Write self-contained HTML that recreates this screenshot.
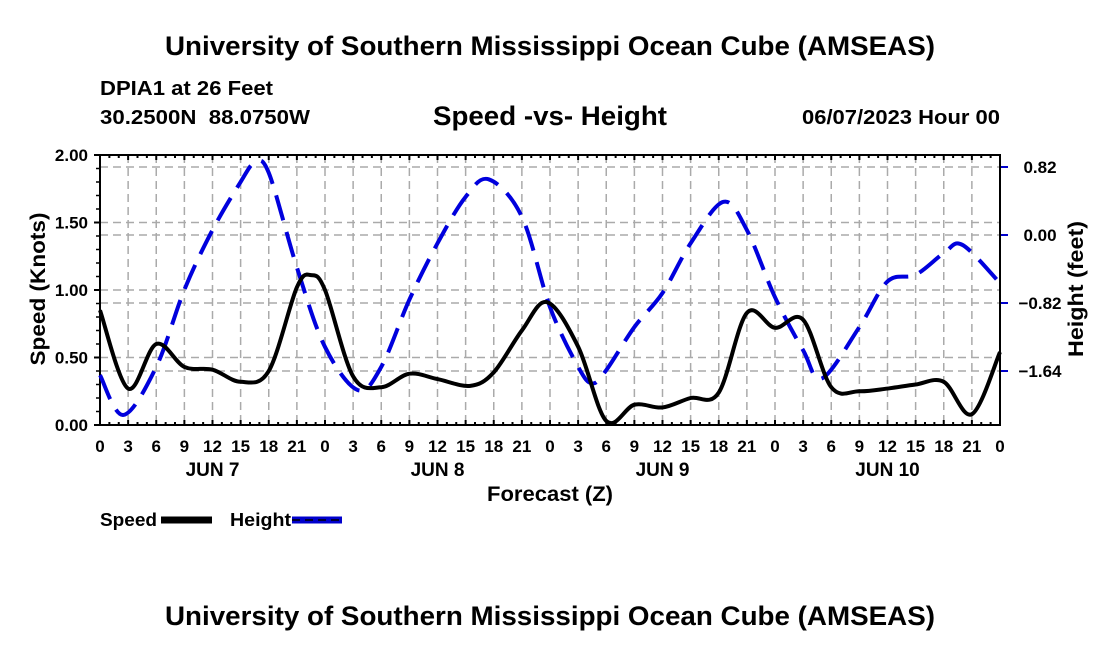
<!DOCTYPE html>
<html><head><meta charset="utf-8"><style>
html,body{margin:0;padding:0;background:#fff;}
svg{display:block;font-family:"Liberation Sans",Arial,sans-serif;font-weight:bold;}
</style></head><body>
<svg id="chart" width="1100" height="650" viewBox="0 0 1100 650" xmlns="http://www.w3.org/2000/svg">
<text x="165" y="55" font-size="27" textLength="770" lengthAdjust="spacingAndGlyphs">University of Southern Mississippi Ocean Cube (AMSEAS)</text>
<text x="100" y="95" font-size="20" textLength="173" lengthAdjust="spacingAndGlyphs">DPIA1 at 26 Feet</text>
<text x="100" y="124" font-size="20" textLength="210" lengthAdjust="spacingAndGlyphs" xml:space="preserve">30.2500N  88.0750W</text>
<text x="433" y="125" font-size="27" textLength="234" lengthAdjust="spacingAndGlyphs">Speed -vs- Height</text>
<text x="802" y="124" font-size="20" textLength="198" lengthAdjust="spacingAndGlyphs">06/07/2023 Hour 00</text>
<g id="grid"></g>
<g id="axes"></g>
<g id="series"></g>
<text transform="translate(45,289) rotate(-90)" text-anchor="middle" font-size="21" textLength="153" lengthAdjust="spacingAndGlyphs">Speed (Knots)</text>
<text transform="translate(1083,289) rotate(-90)" text-anchor="middle" font-size="21" textLength="136" lengthAdjust="spacingAndGlyphs">Height (feet)</text>
<text x="487" y="501" font-size="21" textLength="126" lengthAdjust="spacingAndGlyphs">Forecast (Z)</text>
<g>
<text x="100" y="526" font-size="18" textLength="57" lengthAdjust="spacingAndGlyphs">Speed</text>
<line x1="161" y1="520" x2="212" y2="520" stroke="#000" stroke-width="7"/>
<text x="230" y="526" font-size="18" textLength="61" lengthAdjust="spacingAndGlyphs">Height</text>
<line x1="292" y1="520" x2="342" y2="520" stroke="#0000cc" stroke-width="7"/>
<line x1="292" y1="520" x2="342" y2="520" stroke="#000" stroke-width="1.5" stroke-dasharray="8 5"/>
</g>
<text x="165" y="625" font-size="27" textLength="770" lengthAdjust="spacingAndGlyphs">University of Southern Mississippi Ocean Cube (AMSEAS)</text>
</svg>
<script>
const speedHours=[0,3,6,9,12,15,18,21,22.5,24,27,30,33,36,39.5,42,45,47.7,51,54,57,60,63,66,69,72,75,78,81,84,87,90,93,96];
const speedValues=[0.85,0.27,0.60,0.43,0.41,0.32,0.40,1.02,1.11,1.00,0.36,0.28,0.38,0.34,0.29,0.39,0.70,0.91,0.58,0.03,0.15,0.13,0.20,0.24,0.83,0.72,0.78,0.28,0.25,0.27,0.30,0.32,0.08,0.54];
const heightHours=[0,2.5,6,9,12,15,16.5,18,21,24,27.5,30,33,36,39,41.5,45,48,51,52.5,54,57,60,63,66.5,69,72,75,77,81,84,87,90,92,96];
const heightValues=[-1.69,-2.17,-1.59,-0.66,0.06,0.64,0.87,0.75,-0.39,-1.35,-1.87,-1.59,-0.78,-0.10,0.46,0.67,0.22,-0.87,-1.59,-1.79,-1.63,-1.11,-0.70,-0.10,0.40,0.06,-0.75,-1.39,-1.73,-1.11,-0.56,-0.48,-0.22,-0.12,-0.58];
const speedTicks=["0.00","0.50","1.00","1.50","2.00"];
const heightTicks=["-1.64","-0.82","0.00","0.82"];
const hourLabels=["0","3","6","9","12","15","18","21"];
const dayLabels=["JUN 7","JUN 8","JUN 9","JUN 10"];

const L=100,R=1000,T=155,B=425;
const xS=h=>L+h*(R-L)/96;
const yS=v=>B-v*(B-T)/2;
const yH=v=>235-v*68/0.82;
const NS="http://www.w3.org/2000/svg";
function mk(p,tag,at){const e=document.createElementNS(NS,tag);for(const k in at)e.setAttribute(k,at[k]);p.appendChild(e);return e;}
const grid=document.getElementById('grid'),axes=document.getElementById('axes'),series=document.getElementById('series');
const gs={stroke:"#aaa","stroke-width":1.5,"stroke-dasharray":"8 5"};
for(let i=1;i<32;i++){const x=xS(i*3);const g=mk(grid,'line',Object.assign({x1:x,y1:T,x2:x,y2:B},gs));}
speedTicks.forEach(t=>{const v=parseFloat(t);const y=yS(v);
 if(v>0&&v<2){const g=mk(grid,'line',Object.assign({x1:L,y1:y,x2:R,y2:y},gs));}
 const tk=mk(axes,'line',{x1:L-6,y1:y,x2:L,y2:y,stroke:"#000","stroke-width":2});
 const tx=mk(axes,'text',{x:L-12,y:y+6,"text-anchor":"end","font-size":17});tx.textContent=t;});
for(let v=0.1;v<2;v+=0.1){const y=yS(v);mk(axes,'line',{x1:L-4,y1:y,x2:L,y2:y,stroke:"#000","stroke-width":1.5});}
heightTicks.forEach(t=>{const v=parseFloat(t);const y=yH(v);
 const g=mk(grid,'line',Object.assign({x1:L,y1:y,x2:R,y2:y},gs));
 const tk=mk(axes,'line',{x1:R,y1:y,x2:R+8,y2:y,stroke:"#0000cc","stroke-width":2});
 const tx=mk(axes,'text',{x:1040,y:y+6,"text-anchor":"middle","font-size":17});tx.textContent=t.replace('-','\u2212');});
for(let i=0;i<=96;i++){const x=xS(i);const len=i%3==0?5:3;
 mk(axes,'line',{x1:x,y1:T,x2:x,y2:T+len,stroke:"#000","stroke-width":2});
 mk(axes,'line',{x1:x,y1:B,x2:x,y2:B-len,stroke:"#000","stroke-width":2});}
for(let i=0;i<=32;i++){const tx=mk(axes,'text',{x:xS(i*3),y:452,"text-anchor":"middle","font-size":17});tx.textContent=hourLabels[i%8];}
dayLabels.forEach((d,i)=>{const tx=mk(axes,'text',{x:xS(12+24*i),y:476,"text-anchor":"middle","font-size":19});tx.textContent=d;});
const frame=mk(axes,'rect',{x:L,y:T,width:R-L,height:B-T,fill:"none",stroke:"#000","stroke-width":2});

function smooth(pts){let d="M"+pts[0][0]+","+pts[0][1];
 for(let i=0;i<pts.length-1;i++){const p0=pts[i-1]||pts[i],p1=pts[i],p2=pts[i+1],p3=pts[i+2]||p2;
 d+=" C"+(p1[0]+(p2[0]-p0[0])/6)+","+(p1[1]+(p2[1]-p0[1])/6)+" "+(p2[0]-(p3[0]-p1[0])/6)+","+(p2[1]-(p3[1]-p1[1])/6)+" "+p2[0]+","+p2[1];}
 return d;}
const hp=mk(series,'path',{d:smooth(heightHours.map((h,i)=>[xS(h),yH(heightValues[i])])),fill:"none",stroke:"#0000dd","stroke-width":4,"stroke-dasharray":"26 12"});

const sp=mk(series,'path',{d:smooth(speedHours.map((h,i)=>[xS(h),yS(speedValues[i])])),fill:"none",stroke:"#000","stroke-width":4});

</script>
</body></html>
